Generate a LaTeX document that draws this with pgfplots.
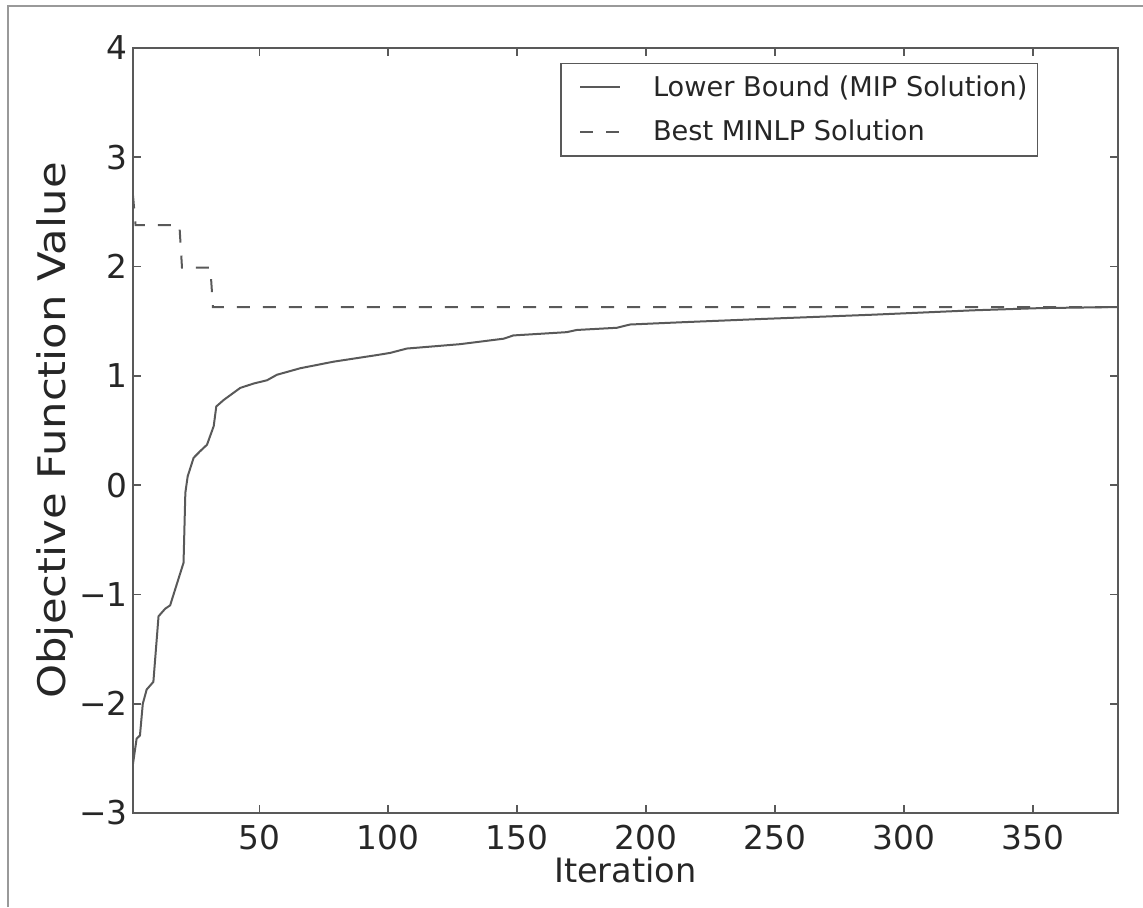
\documentclass[border=0pt]{standalone}
\usepackage{fontspec}
\setmainfont{DejaVu Sans}
\usepackage{graphicx}
\usepackage{pgfplots}
\pgfplotsset{compat=1.18}
\definecolor{ln}{gray}{0.35}
\definecolor{fr}{gray}{0.6}
\begin{document}
\begin{tikzpicture}
\begin{axis}[
  at={(0,0)}, anchor=south west,
  scale only axis, width=492.5pt, height=382.5pt,
  xmin=1, xmax=383, ymin=-3, ymax=4,
  xtick={50,100,150,200,250,300,350},
  ytick={-3,-2,-1,0,1,2,3,4},
  yticklabels={−3,−2,−1,0,1,2,3,4},
  /pgf/number format/assume math mode=true,
  tick align=inside, tick pos=both, major tick length=4pt,
  axis line style={ln, line width=0.8pt},
  every tick/.style={ln, line width=0.8pt},
  ticklabel style={font=\fontsize{16.4}{19}\selectfont, text=black!85},
  xticklabel style={inner sep=0pt, yshift=-6pt},
  yticklabel style={inner sep=0pt, xshift=-2.5pt},
  xlabel={Iteration}, ylabel={\scalebox{1.14}[1]{Objective Function Value}},
  xlabel style={at={(axis description cs:0.5,-0.0575)}, anchor=north, inner sep=0pt, font=\fontsize{16.8}{19}\selectfont, text=black!85},
  ylabel style={at={(axis description cs:-0.069,0.5)}, anchor=base, inner sep=0pt, font=\fontsize{19}{22}\selectfont, text=black!85},
  legend cell align=left,
  legend style={at={(0.9188,0.9804)}, anchor=north east, draw=ln, line width=0.6pt,
    font=\fontsize{13.6}{16}\selectfont, text=black!85,
    inner xsep=5pt, inner ysep=6pt, row sep=10.5pt, column sep=16pt,
    nodes={inner sep=0pt}},
  legend image code/.code={\path (0pt,0pt); \draw[#1] (4pt,0pt) -- (24pt,0pt);},
]
\addplot[ln, line width=1pt] table {
x y
1 -2.55
2.4 -2.32
3.7 -2.29
4.8 -2.00
6.3 -1.87
8.9 -1.80
10.9 -1.20
13.5 -1.13
15.4 -1.10
20.6 -0.71
21.3 -0.07
22.2 0.08
24.5 0.25
27.0 0.31
29.7 0.37
32.3 0.54
33.3 0.72
36.2 0.78
42.6 0.89
47.8 0.93
53.0 0.96
56.8 1.01
65.9 1.07
78.8 1.13
95.5 1.19
100.7 1.21
107.2 1.25
127.8 1.29
144.7 1.34
148.5 1.37
169.2 1.40
173.1 1.42
188.6 1.44
193.8 1.47
213.2 1.49
244.2 1.52
288.2 1.56
327.0 1.60
352.8 1.62
383.0 1.63
};
\addlegendentry{Lower Bound (MIP Solution)}
\addplot[ln, line width=1pt, dash pattern=on 6.5pt off 6.5pt] table {
x y
1 2.65
2 2.38
19 2.38
20 1.99
31 1.99
32 1.63
383 1.63
};
\addlegendentry{Best MINLP Solution}
\end{axis}
\draw[fr, line width=1pt] (-62.5pt,-47pt) -- (-62.5pt,403.5pt) -- (505pt,403.5pt);
\pgfresetboundingbox
\path[use as bounding box] (-66.5pt,-47pt) rectangle (505pt,406.5pt);
\end{tikzpicture}
\end{document}
